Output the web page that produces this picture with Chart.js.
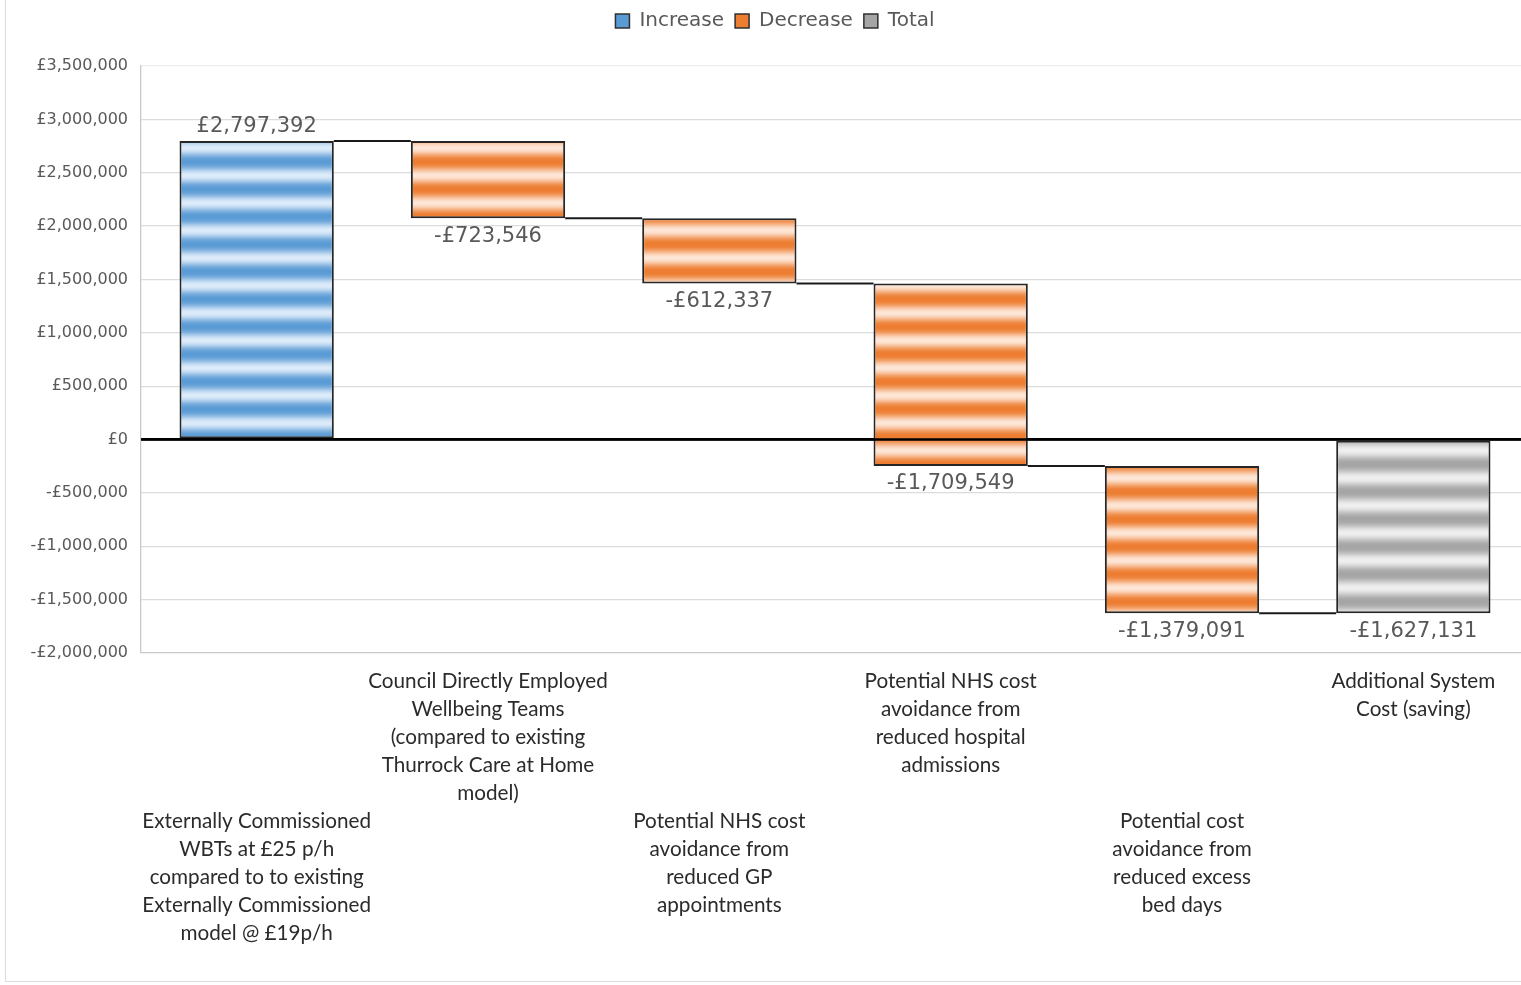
<!DOCTYPE html>
<html>
<head>
<meta charset="utf-8">
<script src="https://cdn.jsdelivr.net/npm/chart.js@4.4.1/dist/chart.umd.min.js"></script>
<style>
    html, body { margin: 0; padding: 0; background: #fff; overflow: hidden; }
    #wrap { position: absolute; left: 0; top: 0; width: 1529px; height: 985px; }
    #frame { position: absolute; left: 5px; top: -2px; width: 1600px; height: 982px;
             border: 1px solid #dcdcdc; pointer-events: none; }
</style>
</head>
<body>
<div id="wrap"><canvas id="waterfall"></canvas></div>
<div id="frame"></div>
<script>
// categories (one array of lines per bar)
const categories = [
    ['Externally Commissioned', 'WBTs at £25 p/h', 'compared to to existing', 'Externally Commissioned', 'model @ £19p/h'],
    ['Council Directly Employed', 'Wellbeing Teams', '(compared to existing', 'Thurrock Care at Home', 'model)'],
    ['Potential NHS cost', 'avoidance from', 'reduced GP', 'appointments'],
    ['Potential NHS cost', 'avoidance from', 'reduced hospital', 'admissions'],
    ['Potential cost', 'avoidance from', 'reduced excess', 'bed days'],
    ['Additional System', 'Cost (saving)']
];
// step values, last bar is the total
const changes = [2797392, -723546, -612337, -1709549, -1379091];
const totalValue = -1627131;

const seriesNames = ['Increase', 'Decrease', 'Total'];
const yMin = -2000000;
const yMax = 3500000;
const yStep = 500000;

const colours = {
    Increase: { dark: '#5b9bd5', light: '#dcebf9' },
    Decrease: { dark: '#ed7d31', light: '#fde6d6' },
    Total: { dark: '#a5a5a5', light: '#efefef' }
};

function money(v) {
    var s = '£' + Math.abs(v).toLocaleString('en-GB');
    return v < 0 ? '-' + s : s;
}

function hexToRgb(h) {
    return [parseInt(h.substr(1, 2), 16), parseInt(h.substr(3, 2), 16), parseInt(h.substr(5, 2), 16)];
}

const ctx = document.getElementById('waterfall').getContext('2d');

// horizontal soft stripes, two periods of 27.5px in one tile
function stripePattern(dark, light) {
    var tile = document.createElement('canvas');
    tile.width = 4;
    tile.height = 55;
    var c = tile.getContext('2d');
    var d = hexToRgb(dark), l = hexToRgb(light);
    for (var y = 0; y < 55; y++) {
        var t = 0.5 + 0.5 * Math.cos(2 * Math.PI * (y + 0.5 - 10.5) / 27.5);
        t = Math.pow(t, 1.2);
        var rgb = [0, 1, 2].map(function (k) { return Math.round(d[k] + (l[k] - d[k]) * t); });
        c.fillStyle = 'rgb(' + rgb.join(',') + ')';
        c.fillRect(0, y, 4, 1);
    }
    return ctx.createPattern(tile, 'repeat');
}

// floating bars built from the running total
var increaseData = [], decreaseData = [], totalData = [];
var levels = [];
var running = 0;
for (var i = 0; i < changes.length; i++) {
    var start = running;
    running += changes[i];
    levels.push(running);
    increaseData.push(changes[i] >= 0 ? [start, running] : null);
    decreaseData.push(changes[i] < 0 ? [start, running] : null);
    totalData.push(null);
}
increaseData.push(null);
decreaseData.push(null);
totalData.push([0, totalValue]);
var shownValues = changes.concat([totalValue]);

// stagger the category labels in two rows
var tickLabels = categories.map(function (lines, i) {
    return i % 2 === 0 ? ['', '', '', '', ''].concat(lines) : lines;
});

const legendMargin = {
    id: 'legendMargin',
    beforeInit(chart) {
        const fitValue = chart.legend.fit;
        chart.legend.fit = function fit() {
            fitValue.bind(chart.legend)();
            this.height += 25;
        };
    }
};

const waterfallExtras = {
    id: 'waterfallExtras',
    afterDatasetsDraw(chart) {
        const c = chart.ctx;
        const yScale = chart.scales.y;
        const area = chart.chartArea;
        function barAt(idx) {
            for (var d = 0; d < chart.data.datasets.length; d++) {
                var el = chart.getDatasetMeta(d).data[idx];
                if (el && chart.data.datasets[d].data[idx] !== null) return el;
            }
            return null;
        }
        c.save();
        // connectors
        c.strokeStyle = '#1a1a1a';
        c.lineWidth = 2;
        for (var i = 0; i < levels.length; i++) {
            var a = barAt(i), b = barAt(i + 1);
            if (!a || !b) continue;
            var y = yScale.getPixelForValue(levels[i]);
            c.beginPath();
            c.moveTo(a.x + a.width / 2, y);
            c.lineTo(b.x - b.width / 2, y);
            c.stroke();
        }
        // zero line over the bars
        var y0 = yScale.getPixelForValue(0);
        c.strokeStyle = '#000';
        c.lineWidth = 2.5;
        c.beginPath();
        c.moveTo(area.left, y0);
        c.lineTo(area.right, y0);
        c.stroke();
        // value labels
        c.font = '21px "DejaVu Sans"';
        c.fillStyle = '#595959';
        c.textAlign = 'center';
        c.textBaseline = 'middle';
        for (var j = 0; j < shownValues.length; j++) {
            var el = barAt(j);
            if (!el) continue;
            var top = Math.min(el.y, el.base);
            var bottom = Math.max(el.y, el.base);
            var v = shownValues[j];
            if (v >= 0) c.fillText(money(v), el.x, top - 14);
            else c.fillText(money(v), el.x, bottom + 18);
        }
        c.restore();
    }
};

function makeDataset(name, data) {
    return {
        label: name,
        data: data,
        backgroundColor: stripePattern(colours[name].dark, colours[name].light),
        borderColor: '#262626',
        borderWidth: 2,
        borderSkipped: false,
        barPercentage: 0.667,
        categoryPercentage: 1.0,
        grouped: false
    };
}

new Chart(ctx, {
    type: 'bar',
    data: {
        labels: tickLabels,
        datasets: [
            makeDataset(seriesNames[0], increaseData),
            makeDataset(seriesNames[1], decreaseData),
            makeDataset(seriesNames[2], totalData)
        ]
    },
    plugins: [legendMargin, waterfallExtras],
    options: {
        responsive: true,
        maintainAspectRatio: false,
        animation: false,
        layout: { padding: { left: 21, right: 0, top: 0, bottom: 0 } },
        plugins: {
            tooltip: { enabled: false },
            legend: {
                position: 'top',
                labels: {
                    boxWidth: 14,
                    boxHeight: 14,
                    padding: 11,
                    color: '#595959',
                    font: { family: '"DejaVu Sans"', size: 20 },
                    generateLabels: function (chart) {
                        return chart.data.datasets.map(function (ds, i) {
                            return {
                                text: ds.label,
                                fillStyle: colours[ds.label].dark,
                                strokeStyle: '#303030',
                                lineWidth: 1.5,
                                fontColor: '#595959',
                                datasetIndex: i
                            };
                        });
                    }
                }
            }
        },
        scales: {
            x: {
                grid: { display: false, drawTicks: false },
                border: { display: false },
                ticks: {
                    autoSkip: false,
                    maxRotation: 0,
                    minRotation: 0,
                    padding: 14,
                    color: '#2b2b2b',
                    font: { family: 'Lato', size: 20.7, lineHeight: '28px' }
                },
                afterFit: function (scale) { scale.height = 332; }
            },
            y: {
                min: yMin,
                max: yMax,
                grid: {
                    drawTicks: false,
                    color: function (c) {
                        if (c.tick.value === 0) return '#000';
                        if (c.tick.value === yMin) return '#c8c8c8';
                        if (c.tick.value === yMax) return '#ececec';
                        return '#dcdcdc';
                    },
                    lineWidth: function (c) { return c.tick.value === 0 ? 2.5 : 1.3; }
                },
                border: { color: '#c8c8c8', width: 1.3 },
                ticks: {
                    stepSize: yStep,
                    padding: 13,
                    color: '#595959',
                    font: { family: '"DejaVu Sans"', size: 16 },
                    callback: function (v) { return money(v); }
                },
                afterFit: function (scale) { scale.width = 120; }
            }
        }
    }
});
</script>
</body>
</html>
